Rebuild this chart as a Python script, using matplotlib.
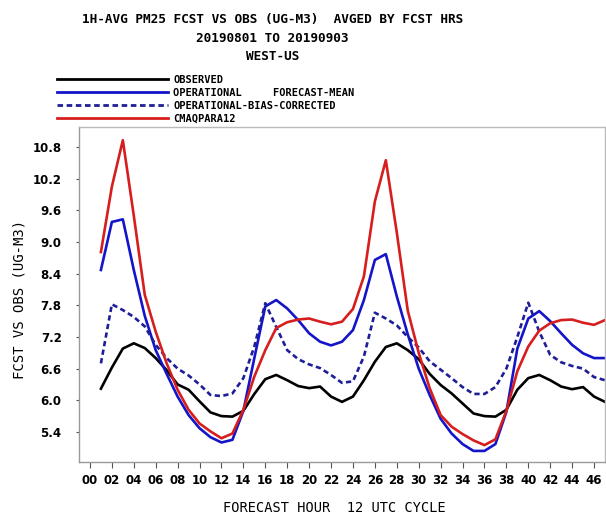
import matplotlib
matplotlib.use("Agg")
import matplotlib.pyplot as plt
import numpy as np

hours = list(range(1, 48))

observed = [6.22, 6.62, 6.98, 7.08, 6.99, 6.80, 6.57, 6.30, 6.20, 5.98,
            5.77, 5.70, 5.69, 5.80, 6.12, 6.40, 6.48, 6.38, 6.27, 6.23,
            6.26, 6.07, 5.97, 6.07, 6.38, 6.73, 7.01, 7.08, 6.95, 6.78,
            6.50, 6.29, 6.13, 5.94, 5.75, 5.70, 5.69, 5.82, 6.20, 6.42,
            6.48, 6.38, 6.26, 6.21, 6.25, 6.07, 5.97]

operational = [8.47, 9.38, 9.43, 8.47, 7.60, 6.95, 6.50, 6.07, 5.72, 5.47,
               5.30, 5.20, 5.25, 5.80, 6.80, 7.78, 7.90, 7.74, 7.52, 7.27,
               7.11, 7.04, 7.11, 7.33, 7.90, 8.66, 8.77, 7.97, 7.25, 6.60,
               6.10, 5.65, 5.37, 5.17, 5.04, 5.04, 5.17, 5.78, 6.98, 7.55,
               7.69, 7.50, 7.27, 7.05, 6.89, 6.80, 6.80]

bias_corrected = [6.70, 7.82, 7.71, 7.58, 7.40, 7.05, 6.80, 6.60, 6.47, 6.30,
                  6.10, 6.08, 6.13, 6.42, 7.02, 7.84, 7.39, 6.95, 6.78, 6.68,
                  6.61, 6.48, 6.33, 6.36, 6.83, 7.66, 7.55, 7.42, 7.20, 7.00,
                  6.74, 6.58, 6.42, 6.25, 6.12, 6.12, 6.25, 6.60, 7.20, 7.85,
                  7.30, 6.86, 6.72, 6.65, 6.60, 6.44, 6.38]

cmaqpara12 = [8.81, 10.05, 10.93, 9.50, 8.00, 7.30, 6.70, 6.20, 5.82, 5.56,
              5.41, 5.28, 5.37, 5.82, 6.45, 6.95, 7.37, 7.48, 7.53, 7.55,
              7.49, 7.44, 7.49, 7.73, 8.35, 9.77, 10.55, 9.18, 7.70, 6.90,
              6.23, 5.72, 5.50, 5.36, 5.24, 5.15, 5.26, 5.80, 6.55, 7.02,
              7.32, 7.46, 7.52, 7.53, 7.47, 7.43, 7.52]

xticks = list(range(0, 47, 2))
xticklabels = ["%02d" % h for h in xticks]
yticks = [5.4, 6.0, 6.6, 7.2, 7.8, 8.4, 9.0, 9.6, 10.2, 10.8]

mono = "DejaVu Sans Mono"

fig = plt.figure(figsize=(6.06, 5.18), dpi=100)
ax = fig.add_axes([79 / 606, 1 - 462 / 518, 526 / 606, 335 / 518])

ax.plot(hours, observed, color="black", lw=1.9, label="OBSERVED")
ax.plot(hours, operational, color="#1414c8", lw=1.9,
        label="OPERATIONAL     FORECAST-MEAN")
ax.plot(hours, bias_corrected, color="#1e1e96", lw=1.9, dashes=(2.0, 1.3),
        label="OPERATIONAL-BIAS-CORRECTED")
ax.plot(hours, cmaqpara12, color="#d61e1e", lw=1.9, label="CMAQPARA12")

ax.set_xlim(-1, 47)
ax.set_ylim(4.83, 11.18)
ax.set_xticks(xticks)
ax.set_xticklabels(xticklabels)
ax.set_yticks(yticks)
ax.set_yticklabels(["%.1f" % v for v in yticks])
ax.tick_params(axis="x", length=4.5, width=0.8, color="#555555", pad=4,
               labelsize=8.5)
ax.tick_params(axis="y", length=2.5, width=0.8, color="#555555", pad=10,
               labelsize=8.5)
for lab in ax.get_xticklabels() + ax.get_yticklabels():
    lab.set_fontweight("bold")
for sp in ax.spines.values():
    sp.set_color("#999999")
    sp.set_linewidth(1.0)
ax.spines["top"].set_color("#bbbbbb")
ax.spines["right"].set_color("#bbbbbb")

# titles and axis labels
fig.text(273 / 606, 1 - 20 / 518, "1H-AVG PM25 FCST VS OBS (UG-M3)  AVGED BY FCST HRS",
         family=mono, weight="bold", fontsize=9.2, ha="center", va="center")
fig.text(272 / 606, 1 - 38 / 518, "20190801 TO 20190903",
         family=mono, weight="bold", fontsize=9.2, ha="center", va="center")
fig.text(273 / 606, 1 - 57 / 518, "WEST-US",
         family=mono, weight="bold", fontsize=9.2, ha="center", va="center")
fig.text(334 / 606, 1 - 508 / 518, "FORECAST HOUR  12 UTC CYCLE",
         family=mono, fontsize=9.8, ha="center", va="center")
fig.text(20 / 606, 1 - 299 / 518, "FCST VS OBS (UG-M3)",
         family=mono, fontsize=10, ha="center", va="center", rotation=90)

leg = fig.legend(loc="upper left", bbox_to_anchor=(57 / 606, 1 - 75 / 518),
                 frameon=False, borderpad=0, borderaxespad=0,
                 handlelength=10.7, handletextpad=0.45, labelspacing=0.29,
                 prop={"family": mono, "weight": "bold", "size": 7.5})
for line in leg.get_lines():
    line.set_linewidth(2.0)

fig.savefig("out.png", dpi=100)
